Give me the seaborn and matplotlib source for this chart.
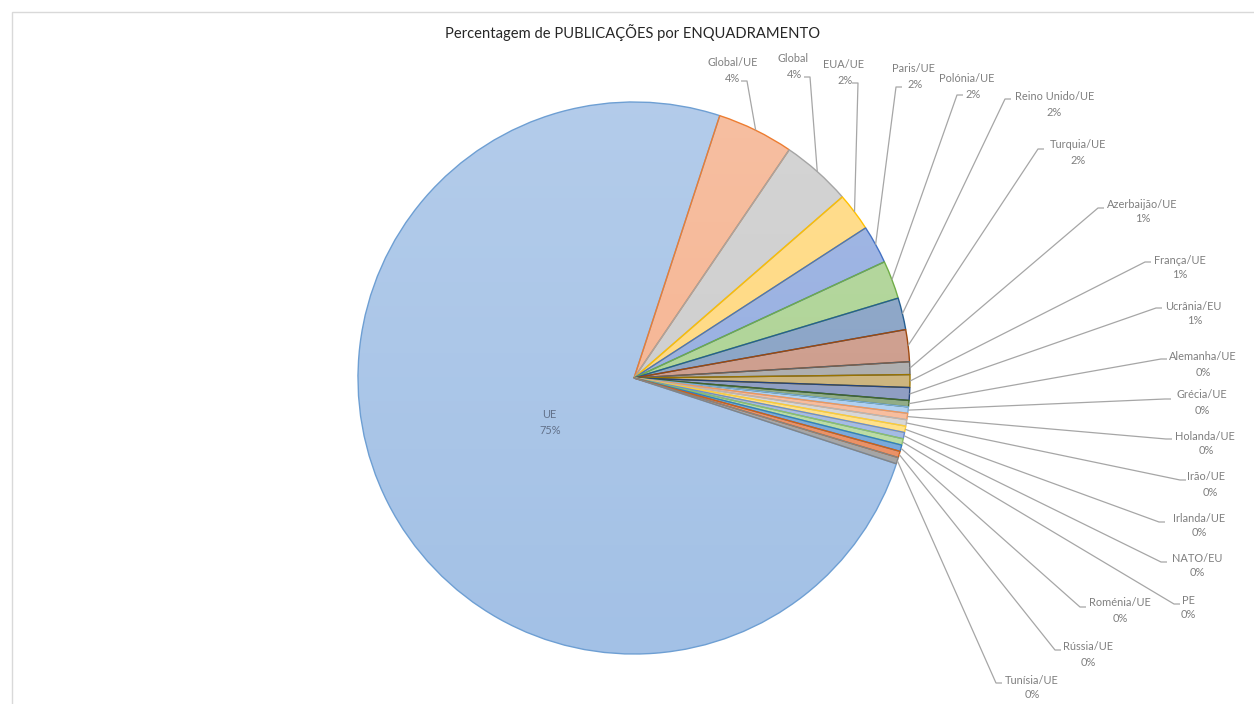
import numpy as np
import matplotlib
matplotlib.use("Agg")
import matplotlib.pyplot as plt
import seaborn as sns
from matplotlib.patches import Rectangle, Circle

# ---------------- data ----------------
categories = ["UE", "Global/UE", "Global", "EUA/UE", "Paris/UE", "Polónia/UE",
              "Reino Unido/UE", "Turquia/UE", "Azerbaijão/UE", "França/UE",
              "Ucrânia/EU", "Alemanha/UE", "Grécia/UE", "Holanda/UE", "Irão/UE",
              "Irlanda/UE", "NATO/EU", "PE", "Roménia/UE", "Rússia/UE", "Tunísia/UE"]
counts = [201, 12, 11, 6, 6, 6, 5, 5, 2, 2, 2, 1, 1, 1, 1, 1, 1, 1, 1, 1, 1]
title = "Percentagem de PUBLICAÇÕES por ENQUADRAMENTO"

# ---------------- styles ----------------
fill_colors = ["#A3C1E6", "#F5B18D", "#CBCBCB", "#FFD779", "#90AADF", "#A9D18F",
               "#819DC2", "#CA9684", "#A8A8A8", "#C9AF74", "#8696BE", "#88A67C",
               "#AACDF0", "#F8B896", "#D4D4D4", "#FFDF80", "#9EB6E4", "#B6DA9E",
               "#6FA3DA", "#EA8A5C", "#A0A0A0"]
edge_colors = ["#6E9FD3", "#ED7D31", "#A5A5A5", "#FFC000", "#4472C4", "#70AD47",
               "#255E91", "#9E480E", "#636363", "#997300", "#264478", "#43682B",
               "#7CAFDD", "#F1975A", "#B7B7B7", "#FFCD33", "#698ED0", "#8CC168",
               "#327DC2", "#D26012", "#848484"]

W, H = 1254, 704
CX, CY, R = 634, 378, 276      # pie centre / radius in pixels
START = -18.1

# label layout (pixel coords): name centre, pct centre, leader end, elbow direction
name_pos = [None, (733, 63), (793, 58), (843, 65), (913, 68), (967, 79),
            (1055, 97), (1078, 145), (1142, 204), (1180, 260), (1193, 306),
            (1203, 357), (1202, 395), (1205, 436), (1206, 477), (1199, 518),
            (1197, 558), (1188, 601), (1120, 603), (1088, 647), (1032, 680)]
pct_pos = [None, (733, 78), (795, 74), (845, 80), (915, 85), (973, 94),
           (1054, 112), (1078, 161), (1143, 219), (1180, 274), (1195, 321),
           (1203, 372), (1202, 410), (1206, 450), (1210, 492), (1199, 533),
           (1197, 573), (1188, 615), (1120, 618), (1088, 662), (1032, 695)]
leader_end = [None, (741, 81), (804, 77), (852, 83), (902, 87), (963, 95),
              (1011, 99), (1044, 149), (1104, 208), (1151, 262), (1162, 308),
              (1167, 359), (1171, 399), (1172, 439), (1186, 480), (1165, 522),
              (1167, 562), (1180, 604), (1086, 607), (1061, 650), (1002, 683)]
elbow_dir = [0, 1, 1, 1, -1, -1] + [-1] * 15

sns.set_theme(style="white")
plt.rcParams["font.family"] = ["Lato", "DejaVu Sans"]

fig = plt.figure(figsize=(W / 100, H / 100), dpi=100)
ax = fig.add_axes([0, 0, 1, 1])


def py(y):
    return H - y


total = sum(counts)
# fills
wedges, _ = ax.pie(counts, colors=fill_colors, startangle=START, counterclock=False,
                   center=(CX, py(CY)), radius=R, wedgeprops=dict(linewidth=0))

# soft vertical gradient (Excel-like) clipped to the pie
grad = np.linspace(0.18, 0.0, 256).reshape(-1, 1)
rgba = np.zeros((256, 1, 4))
rgba[..., :3] = 1.0
rgba[..., 3] = grad
im = ax.imshow(rgba, extent=(CX - R, CX + R, py(CY + R), py(CY - R)),
               origin="upper", aspect="auto", zorder=2, interpolation="bilinear")
clip = Circle((CX, py(CY)), R, transform=ax.transData)
im.set_clip_path(clip)

# edges
wedges2, _ = ax.pie(counts, startangle=START, counterclock=False,
                    center=(CX, py(CY)), radius=R,
                    wedgeprops=dict(fill=False, linewidth=1.0))
for w, ec in zip(wedges2, edge_colors):
    w.set_edgecolor(ec)
    w.set_zorder(3)

FS = 7.9
label_color = "#7F7F7F"
line_color = "#A6A6A6"
for i, (w, name, c) in enumerate(zip(wedges, categories, counts)):
    pct = f"{round(100 * c / total)}%"
    if i == 0:
        ax.text(549, py(415), name, ha="center", va="center", fontsize=FS,
                color="#62718A", zorder=5)
        ax.text(550, py(431), pct, ha="center", va="center", fontsize=FS,
                color="#62718A", zorder=5)
        continue
    mid = np.deg2rad((w.theta1 + w.theta2) / 2)
    ax_x = w.center[0] + w.r * np.cos(mid)
    ax_y = w.center[1] + w.r * np.sin(mid)
    ex, ey = leader_end[i]
    bx = ex + 6 * elbow_dir[i]
    ax.plot([ax_x, bx, ex], [ax_y, py(ey), py(ey)], color=line_color, lw=0.9,
            zorder=4, solid_capstyle="butt")
    nx, ny = name_pos[i]
    px_, py_ = pct_pos[i]
    ax.text(nx, py(ny), name, ha="center", va="center", fontsize=FS,
            color=label_color, zorder=5)
    ax.text(px_, py(py_), pct, ha="center", va="center", fontsize=FS,
            color=label_color, zorder=5)

ax.text(633, py(33), title, ha="center", va="center", fontsize=10.6, color="#262626")

# chart-area border
ax.add_patch(Rectangle((12, py(H + 20)), W + 20, (H + 20) - 12, fill=False,
                       edgecolor="#D9D9D9", lw=1.0, zorder=1))

ax.set_xlim(0, W)
ax.set_ylim(0, H)
ax.set_aspect("equal")
ax.axis("off")
fig.savefig("out.png", dpi=100, facecolor="white")
